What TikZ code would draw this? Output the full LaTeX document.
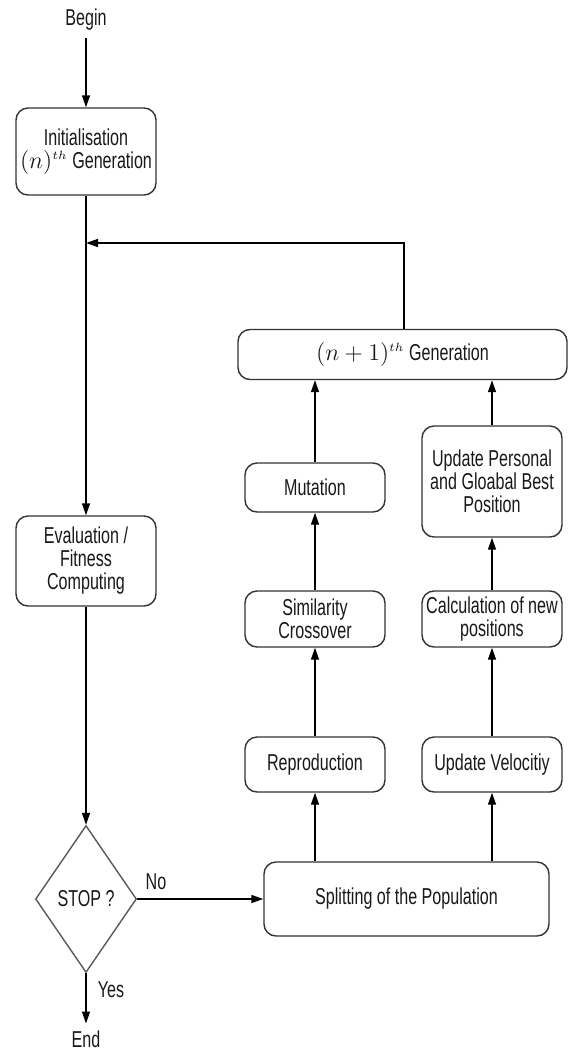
\documentclass[tikz,border=0pt]{standalone}
\usepackage{fontspec}
\setmainfont{Liberation Sans}[FakeStretch=0.7]
\usetikzlibrary{arrows.meta,shapes.geometric}
\begin{document}
\begin{tikzpicture}[x=0.5pt,y=-0.5pt,
  txt/.style={font=\fontsize{11.5}{11.5}\selectfont, text=black!90},
  box/.style={txt, draw=black!80, line width=0.7pt, rounded corners=6pt, align=center, inner sep=0pt, fill=white},
  arr/.style={-{Triangle[length=6pt,width=4pt]}, line width=0.7pt, black}]
\useasboundingbox (0,0) rectangle (569,1055);
\node[txt] (begin) at (86,20) {Begin};
\node[box, minimum width=70pt, minimum height=43.5pt] (init) at (86,151.5) {Initialisation\\$(n)^{\scriptscriptstyle th}$ Generation};
\node[box, minimum width=70pt, minimum height=45pt] (eval) at (86,561) {Evaluation /\\Fitness\\Computing};
\node[diamond, txt, draw=black!65, line width=0.7pt, minimum width=50.5pt, minimum height=73.5pt, inner sep=0pt] (stop) at (86,899) {STOP ?};
\node[box, minimum width=142.5pt, minimum height=37pt] (split) at (406.5,899) {Splitting of the Population};
\node[box, minimum width=70pt, minimum height=27.5pt] (repro) at (315,764.5) {Reproduction};
\node[box, minimum width=70pt, minimum height=27.5pt] (vel) at (492,764.5) {Update Velocitiy};
\node[box, minimum width=70pt, minimum height=28pt] (sim) at (315,619) {Similarity\\Crossover};
\node[box, minimum width=70pt, minimum height=28pt] (calc) at (492,619) {Calculation of new\\positions};
\node[box, minimum width=70pt, minimum height=24.5pt] (mut) at (315,487.5) {Mutation};
\node[box, minimum width=70pt, minimum height=55.5pt] (upd) at (492,481.5) {Update Personal\\and Gloabal Best\\Position};
\node[box, minimum width=164.5pt, minimum height=25pt] (next) at (402.5,354.5) {$(n+1)^{\scriptscriptstyle th}$ Generation};
\node[txt] (end) at (86,1039) {End};
\node[txt] (no) at (156,882) {No};
\node[txt] (yes) at (111,990) {Yes};
\coordinate (fb) at (404,243);
\draw[arr] (begin) -- (init);
\draw[arr] (init) -- (eval);
\draw[arr] (eval) -- (stop);
\draw[arr] (stop) -- (split);
\draw[arr] (stop) -- (end);
\draw[arr] (split.north -| repro) -- (repro);
\draw[arr] (split.north -| vel) -- (vel);
\draw[arr] (repro) -- (sim);
\draw[arr] (vel) -- (calc);
\draw[arr] (sim) -- (mut);
\draw[arr] (calc) -- (upd);
\draw[arr] (mut) -- (mut |- next.south);
\draw[arr] (upd) -- (upd |- next.south);
\draw[arr] (next.north -| fb) -- (fb) -- (fb -| init);
\end{tikzpicture}
\end{document}
